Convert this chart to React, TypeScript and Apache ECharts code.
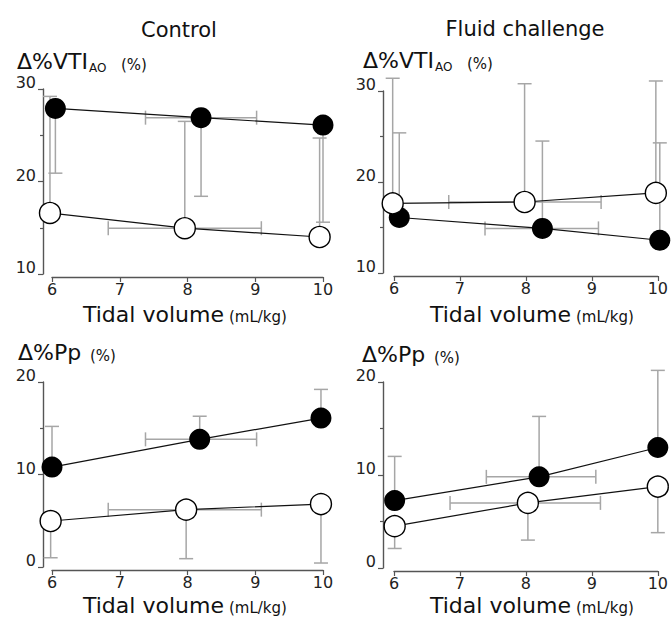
import React, { useEffect, useRef } from "react";
import * as echarts from "echarts";

// ---------- text ----------
const panelTitles = ["Control", "Fluid challenge"];
const xAxisTitle = "Tidal volume";
const xAxisUnit = "(mL/kg)";
const vtiLabel = "Δ%VTI";
const vtiSub = "AO";
const ppLabel = "Δ%Pp";
const pctUnit = "(%)";

// ---------- axes ----------
const xMin = 6;
const xMax = 10;
const xStep = 1;
const vtiMin = 10;
const vtiMax = 30;
const ppMin = 0;
const ppMax = 20;
const yStep = 10;

// ---------- data: Control, Δ%VTI_AO ----------
const ctrlVtiBlackX = [6.05, 8.2, 10.0];
const ctrlVtiBlackY = [27.9, 26.9, 26.1];
const ctrlVtiBlackErrY = [20.9, 18.4, 15.6];
const ctrlVtiBlackErrX = [7.38, 9.02];
const ctrlVtiWhiteX = [5.97, 7.96, 9.95];
const ctrlVtiWhiteY = [16.6, 14.95, 14.0];
const ctrlVtiWhiteErrY = [29.2, 26.5, 24.7];
const ctrlVtiWhiteErrX = [6.83, 9.09];

// ---------- data: Fluid challenge, Δ%VTI_AO ----------
const fluidVtiBlackX = [6.08, 8.25, 10.03];
const fluidVtiBlackY = [16.1, 14.9, 13.6];
const fluidVtiBlackErrY = [25.4, 24.5, 24.3];
const fluidVtiBlackErrX = [7.38, 9.1];
const fluidVtiWhiteX = [5.98, 7.98, 9.97];
const fluidVtiWhiteY = [17.65, 17.8, 18.8];
const fluidVtiWhiteErrY = [31.4, 30.8, 31.1];
const fluidVtiWhiteErrX = [6.83, 9.14];

// ---------- data: Control, Δ%Pp ----------
const ctrlPpBlackX = [6.0, 8.18, 9.97];
const ctrlPpBlackY = [10.8, 13.8, 16.1];
const ctrlPpBlackErrY = [15.2, 16.3, 19.2];
const ctrlPpBlackErrX = [7.38, 9.02];
const ctrlPpWhiteX = [5.98, 7.98, 9.97];
const ctrlPpWhiteY = [4.97, 6.2, 6.8];
const ctrlPpWhiteErrY = [1.0, 0.9, 0.43];
const ctrlPpWhiteErrX = [6.83, 9.09];

// ---------- data: Fluid challenge, Δ%Pp ----------
const fluidPpBlackX = [6.01, 8.2, 10.0];
const fluidPpBlackY = [7.25, 9.8, 12.96];
const fluidPpBlackErrY = [12.0, 16.3, 21.25];
const fluidPpBlackErrX = [7.4, 9.06];
const fluidPpWhiteX = [6.01, 8.03, 10.0];
const fluidPpWhiteY = [4.5, 7.0, 8.75];
const fluidPpWhiteErrY = [2.1, 3.0, 3.8];
const fluidPpWhiteErrX = [6.85, 9.13];

const panels = [
  { bx: ctrlVtiBlackX, by: ctrlVtiBlackY, bey: ctrlVtiBlackErrY, bex: ctrlVtiBlackErrX,
    wx: ctrlVtiWhiteX, wy: ctrlVtiWhiteY, wey: ctrlVtiWhiteErrY, wex: ctrlVtiWhiteErrX,
    ymin: vtiMin, ymax: vtiMax },
  { bx: fluidVtiBlackX, by: fluidVtiBlackY, bey: fluidVtiBlackErrY, bex: fluidVtiBlackErrX,
    wx: fluidVtiWhiteX, wy: fluidVtiWhiteY, wey: fluidVtiWhiteErrY, wex: fluidVtiWhiteErrX,
    ymin: vtiMin, ymax: vtiMax },
  { bx: ctrlPpBlackX, by: ctrlPpBlackY, bey: ctrlPpBlackErrY, bex: ctrlPpBlackErrX,
    wx: ctrlPpWhiteX, wy: ctrlPpWhiteY, wey: ctrlPpWhiteErrY, wex: ctrlPpWhiteErrX,
    ymin: ppMin, ymax: ppMax },
  { bx: fluidPpBlackX, by: fluidPpBlackY, bey: fluidPpBlackErrY, bex: fluidPpBlackErrX,
    wx: fluidPpWhiteX, wy: fluidPpWhiteY, wey: fluidPpWhiteErrY, wex: fluidPpWhiteErrX,
    ymin: ppMin, ymax: ppMax },
];

// ---------- layout ----------
const FONT = '"DejaVu Sans", "Liberation Sans", sans-serif';
const grids = [
  { left: 52, top: 89, width: 271, height: 185, yOff: 9 },
  { left: 394, top: 91, width: 270, height: 182, yOff: 11 },
  { left: 52, top: 382, width: 271, height: 185, yOff: 9 },
  { left: 394, top: 382, width: 270, height: 186, yOff: 11 },
];
const AXIS_COLOR = "#555";
const LABEL_COLOR = "#222";
const ERR_COLOR = "#a6a6a6";
const CAP = 7;

function txt(x: number, baseline: number, text: string, size: number, align = "left") {
  return {
    type: "text",
    x,
    y: baseline - 0.346 * size,
    silent: true,
    style: {
      text,
      fontSize: size,
      fontFamily: FONT,
      fill: "#111",
      align,
      textAlign: align,
      verticalAlign: "middle",
      textVerticalAlign: "middle",
    },
  };
}

function vErr(params: any, api: any) {
  const x = api.value(0);
  const a = api.coord([x, api.value(1)]);
  const b = api.coord([x, api.value(2)]);
  const style = { stroke: ERR_COLOR, lineWidth: 1.5, fill: "none" };
  return {
    type: "group",
    children: [
      { type: "line", shape: { x1: a[0], y1: a[1], x2: b[0], y2: b[1] }, style },
      { type: "line", shape: { x1: b[0] - CAP, y1: b[1], x2: b[0] + CAP, y2: b[1] }, style },
    ],
  };
}

function hErr(params: any, api: any) {
  const y = api.value(2);
  const a = api.coord([api.value(0), y]);
  const b = api.coord([api.value(1), y]);
  const style = { stroke: ERR_COLOR, lineWidth: 1.5, fill: "none" };
  return {
    type: "group",
    children: [
      { type: "line", shape: { x1: a[0], y1: a[1], x2: b[0], y2: b[1] }, style },
      { type: "line", shape: { x1: a[0], y1: a[1] - CAP, x2: a[0], y2: a[1] + CAP }, style },
      { type: "line", shape: { x1: b[0], y1: b[1] - CAP, x2: b[0], y2: b[1] + CAP }, style },
    ],
  };
}

function buildOption() {
  const axisLine = { show: true, onZero: false, lineStyle: { color: AXIS_COLOR, width: 1.4 } };
  const labelStyle = { fontSize: 16, fontFamily: FONT, color: LABEL_COLOR };
  const series: any[] = [];
  panels.forEach((p, i) => {
    const idx = { xAxisIndex: i, yAxisIndex: i };
    series.push({
      type: "custom", ...idx, z: 1, silent: true, clip: false, renderItem: vErr,
      data: p.bx.map((x, k) => [x, p.by[k], p.bey[k]]),
    });
    series.push({
      type: "custom", ...idx, z: 1, silent: true, clip: false, renderItem: vErr,
      data: p.wx.map((x, k) => [x, p.wy[k], p.wey[k]]),
    });
    series.push({
      type: "custom", ...idx, z: 1, silent: true, clip: false, renderItem: hErr,
      data: [
        [p.bex[0], p.bex[1], p.by[1]],
        [p.wex[0], p.wex[1], p.wy[1]],
      ],
    });
    series.push({
      type: "line", ...idx, z: 3, clip: false, silent: true,
      symbol: "circle", symbolSize: 21,
      itemStyle: { color: "#000" },
      lineStyle: { color: "#111", width: 1.2 },
      data: p.bx.map((x, k) => [x, p.by[k]]),
    });
    series.push({
      type: "line", ...idx, z: 4, clip: false, silent: true,
      symbol: "circle", symbolSize: 21,
      itemStyle: { color: "#fff", borderColor: "#000", borderWidth: 1.4 },
      lineStyle: { color: "#111", width: 1.2 },
      data: p.wx.map((x, k) => [x, p.wy[k]]),
    });
  });

  const graphic: any[] = [
    txt(179, 37, panelTitles[0], 21, "center"),
    txt(525, 36, panelTitles[1], 21, "center"),
  ];
  // y-axis titles
  const yTitles = [
    { x: 17, b: 69, main: vtiLabel, sub: true },
    { x: 363, b: 68, main: vtiLabel, sub: true },
    { x: 18, b: 360, main: ppLabel, sub: false },
    { x: 362, b: 362, main: ppLabel, sub: false },
  ];
  yTitles.forEach((t) => {
    graphic.push(txt(t.x, t.b, t.main, 22));
    if (t.sub) {
      graphic.push(txt(t.x + 72, t.b + 3, vtiSub, 12));
      graphic.push(txt(t.x + 104, t.b + 1, pctUnit, 15));
    } else {
      graphic.push(txt(t.x + 72, t.b + 1, pctUnit, 15));
    }
  });
  // x-axis titles
  const xTitles = [
    { x: 83, b: 322 },
    { x: 430, b: 322 },
    { x: 83, b: 613 },
    { x: 430, b: 613 },
  ];
  xTitles.forEach((t) => {
    graphic.push(txt(t.x, t.b, xAxisTitle, 22));
    graphic.push(txt(t.x + 146, t.b, xAxisUnit, 15));
  });

  return {
    animation: false,
    backgroundColor: "#fff",
    grid: grids.map((g) => ({ left: g.left, top: g.top, width: g.width, height: g.height })),
    xAxis: grids.map((g, i) => ({
      type: "value", gridIndex: i, min: xMin, max: xMax, interval: xStep, offset: 3,
      axisLine,
      axisTick: { show: true, length: 5, lineStyle: { color: AXIS_COLOR, width: 1.2 } },
      axisLabel: { ...labelStyle, margin: 4 },
      splitLine: { show: false },
    })),
    yAxis: grids.map((g, i) => ({
      type: "value", gridIndex: i, min: panels[i].ymin, max: panels[i].ymax, interval: yStep,
      offset: g.yOff,
      axisLine,
      axisTick: { show: true, length: 5, lineStyle: { color: AXIS_COLOR, width: 1.2 } },
      minorTick: { show: true, splitNumber: 2, length: 3, lineStyle: { color: AXIS_COLOR, width: 1.2 } },
      axisLabel: { ...labelStyle, margin: 7, verticalAlign: "bottom", lineHeight: 13 },
      splitLine: { show: false },
      minorSplitLine: { show: false },
    })),
    series,
    graphic,
  };
}

export default function App() {
  const ref = useRef<HTMLDivElement>(null);
  useEffect(() => {
    if (!ref.current) return;
    const chart = echarts.init(ref.current, undefined, { renderer: "svg" });
    chart.setOption(buildOption() as any);
    return () => chart.dispose();
  }, []);
  return (
    <div
      ref={ref}
      style={{ position: "fixed", left: 0, top: 0, width: 671, height: 622, background: "#fff" }}
    />
  );
}
